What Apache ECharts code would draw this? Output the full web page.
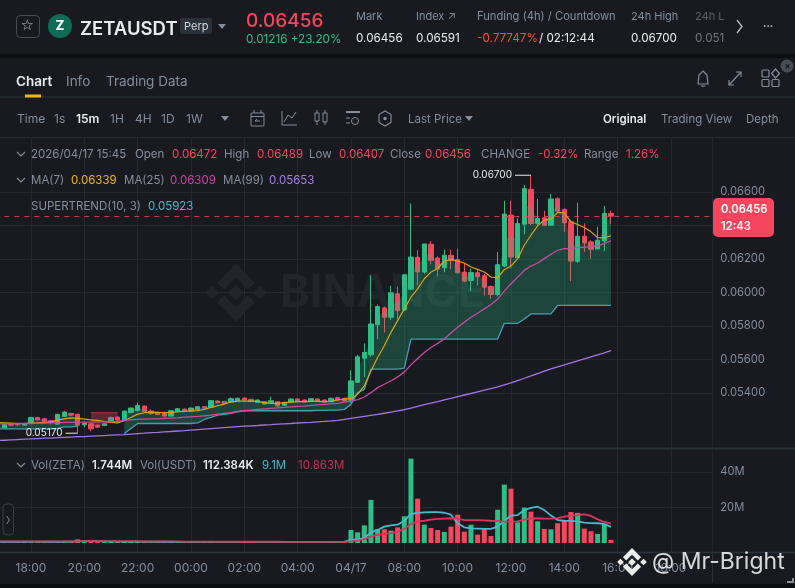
<!DOCTYPE html>
<html><head><meta charset="utf-8">
<style>html,body{margin:0;padding:0;background:#181a20}#c{width:795px;height:588px}</style>
<script src="https://cdn.jsdelivr.net/npm/echarts@6/dist/echarts.min.js"></script>
</head><body><div id="c"></div>
<script>
const opens=[.05206,.05192,.05216,.05218,.05208,.05224,.05254,.05246,.05234,.05214,.0526,.05278,.05272,.0521,.05216,.05208,.05206,.05228,.05256,.05238,.05284,.05294,.05322,.05292,.05284,.05284,.05262,.05288,.05304,.0529,.05302,.05318,.05314,.05352,.0535,.05346,.05354,.0537,.05362,.05344,.05334,.05342,.05348,.05326,.05346,.05364,.05358,.0535,.05364,.05358,.05348,.05372,.05368,
.05356,.05464,.05608,.05628,.05808,.05908,.05852,.05992,.05896,.0602,.0621,.06122,.06288,.06206,.06148,.06222,.06196,.06122,.06072,.06118,.061,.06036,.05988,.06158,.06462,.06208,.06408,.06616,.06412,.06446,.06402,.0656,.06496,.06422,.06186,.06336,.06302,.0626,.06308,.06472];
const closes=[.05214,.05212,.05208,.0521,.05218,.05254,.0524,.05232,.05226,.05272,.05286,.05268,.05208,.05218,.05186,.05196,.05216,.05254,.05238,.05292,.0531,.05326,.0529,.05278,.05272,.05262,.05294,.05306,.05294,.0531,.05318,.0531,.05354,.05342,.05338,.05366,.05368,.05358,.0535,.05358,.05348,.05354,.05322,.05344,.05364,.0535,.05346,.05366,.0535,.05346,.05368,.05358,.05352,
.05472,.05616,.05642,.05812,.05916,.05852,.05998,.05892,.06106,.06212,.06122,.0629,.06192,.0614,.06222,.06192,.06118,.06068,.0612,.06096,.06032,.05988,.06166,.06468,.06212,.06412,.0662,.06412,.06442,.06402,.06558,.06486,.06416,.06188,.06336,.06296,.06258,.06312,.06472,.06456];
const highs=[.05218,.05216,.0522,.05222,.05222,.05258,.05258,.0525,.05238,.05276,.05292,.05282,.05276,.05228,.0522,.05212,.0522,.05258,.0526,.05294,.05314,.05342,.05324,.05302,.05288,.05288,.05298,.0531,.05308,.05314,.05322,.05322,.05358,.05356,.05354,.05374,.05372,.05374,.05366,.05362,.05352,.05378,.05352,.05348,.05368,.05368,.05362,.0537,.05368,.05362,.05372,.05376,.05372,
.05536,.05628,.05696,.06102,.05928,.05916,.0604,.06036,.06112,.06532,.06252,.0629,.06306,.06216,.06256,.06256,.06262,.06172,.06142,.0614,.06112,.06042,.06242,.06548,.06548,.06442,.06642,.067,.06558,.06488,.06588,.06568,.06502,.06432,.06536,.06412,.06312,.06392,.06516,.06489];
const lows=[.05202,.0519,.05204,.05204,.05206,.0522,.05236,.0523,.05212,.05212,.05256,.05264,.05162,.05196,.05172,.05192,.05204,.05226,.05234,.05236,.0528,.05292,.05286,.0527,.05268,.05258,.0526,.05286,.05292,.05288,.053,.05308,.05312,.0534,.05336,.05344,.05352,.05356,.05348,.05342,.05332,.0534,.0532,.05324,.05344,.05348,.05344,.05348,.05348,.05344,.05346,.05356,.0535,
.05342,.0546,.05496,.05616,.05722,.05762,.05836,.05842,.05892,.06016,.06042,.06112,.06168,.06096,.0612,.0614,.06112,.06062,.06008,.06042,.05982,.05962,.05976,.06152,.06148,.06208,.06348,.06402,.06402,.06396,.06396,.06476,.06362,.06068,.06176,.06242,.06202,.06256,.06248,.06407];
const ma7=[.05224,.05222,.0522,.05218,.05218,.0522,.05222,.05224,.05228,.05238,.05246,.05252,.05248,.05244,.0524,.05236,.0523,.05224,.05222,.05234,.05254,.05274,.05282,.05286,.05284,.05282,.05284,.05288,.0529,.05294,.05294,.05302,.05314,.05324,.05334,.05346,.05352,.05352,.05352,.0535,.05342,.05338,.05338,.05342,.05346,.05348,.05348,.0535,.0535,.05348,.0535,.05358,.05364,
.05366,.05392,.05442,.05532,.05612,.05682,.05762,.05832,.05902,.05972,.06022,.06082,.06122,.06142,.06188,.06196,.06188,.06176,.06152,.06138,.06122,.06092,.06088,.06136,.06158,.06202,.06282,.06342,.06398,.06432,.06438,.06478,.06476,.06422,.06406,.06388,.06362,.06328,.06326,.06339];
const ma25=[.05216,.05216,.05216,.05218,.05218,.05218,.0522,.0522,.05222,.05222,.05224,.05224,.05226,.05226,.05226,.05228,.05228,.05228,.0523,.05238,.0524,.05242,.05244,.05246,.05246,.05248,.0525,.05252,.05256,.05258,.0526,.05264,.05268,.05274,.05278,.05282,.0529,.05294,.05298,.05302,.05305,.05308,.05311,.05314,.05317,.0532,.05322,.05326,.05329,.05332,.05335,.05338,.05346,
.05352,.0536,.05376,.05402,.05432,.05452,.05472,.05496,.05526,.05568,.05606,.05642,.05672,.05696,.05722,.05758,.05792,.05822,.05852,.05876,.05902,.05928,.0596,.06008,.06052,.06092,.06132,.06158,.06176,.06202,.06228,.06252,.06262,.06262,.06268,.0627,.06274,.06278,.06292,.06309];
const ma99=[.05116,.05118,.0512,.05122,.05124,.05126,.05128,.0513,.05131,.05133,.05135,.05137,.05139,.0514,.05142,.05144,.05146,.05148,.0515,.05152,.05155,.05158,.0516,.05163,.05165,.05168,.0517,.05173,.05175,.05178,.05181,.05184,.05187,.0519,.05193,.05196,.05199,.05202,.05204,.05206,.05209,.05211,.05214,.05216,.05218,.05221,.05223,.05225,.05228,.0523,.05233,.05237,.05242,
.05248,.05254,.0526,.05266,.05272,.05279,.05286,.05293,.053,.0531,.0532,.0533,.0534,.05349,.05359,.05368,.05378,.05388,.05397,.05407,.05417,.05426,.05436,.05448,.0546,.05474,.05488,.05502,.05516,.0553,.05544,.05556,.05568,.0558,.05592,.05604,.05616,.05628,.0564,.05653];
const stBull=[.05186,.05186,.05186,.05186,.05186,.05186,.05186,.05186,.05186,.05188,.05198,.05198,.05202,null,null,null,null,null,null,.05158,.05188,.05218,.05218,.05218,.05218,.05218,.05218,.05218,.05218,.05218,.05222,.05242,.05254,.05268,.05272,.05278,.05288,.05294,.05294,.05294,.05294,.05294,.05294,.05294,.05294,.05294,.05294,.05294,.05296,.05296,.05298,.05298,.05302,
.05332,.05402,.05422,.05542,.05542,.05542,.05542,.05542,.05548,.05722,.05722,.05722,.05722,.05722,.05722,.05722,.05722,.05722,.05722,.05722,.05722,.05722,.05722,.05816,.05816,.05816,.05842,.05872,.05872,.05872,.05872,.05923,.05923,.05923,.05923,.05923,.05923,.05923,.05923,.05923];
const stBear=[null,null,null,null,null,null,null,null,null,null,null,null,null,null,.05282,.05282,.05282,.05282,.05282];
const volZeta=[.6,.6,.5,.7,.5,.9,.6,.5,.8,.7,.6,.9,2.1,1.0,1.2,.7,.5,.6,.6,1.0,.8,.7,.6,.5,.5,.6,.7,.6,.4,.5,.4,.5,.8,.5,.5,.5,.4,.5,.4,.9,.8,.6,.5,.5,.6,.5,.5,.5,.4,.5,.6,.6,.7,
7.3,6.0,9.9,24.2,7.9,7.7,6.9,8.8,15.0,47.4,24.9,10.3,8.4,7.3,6.2,9.2,15.9,6.4,10.3,4.7,7.7,3.9,18.7,32.8,30.5,11.6,19.9,17.6,12.2,7.9,7.7,11.1,12.5,17.4,16.9,8.1,6.6,5.1,10.7,1.744];
const volMaA=[.7,.7,.7,.7,.7,.8,.8,.7,.7,.7,.7,.8,.9,1,1,1,.9,.9,.8,.8,.8,.8,.8,.7,.7,.7,.7,.6,.6,.6,.6,.6,.6,.6,.6,.6,.6,.6,.6,.6,.6,.6,.6,.6,.6,.6,.6,.6,.6,.5,.5,.5,.6,
1.7,2.1,2.8,6.0,7.3,9.2,9.9,10.3,12.5,16.3,16.9,17.2,17.4,17.4,17.0,15.9,11.1,8.8,8.2,8.1,7.9,7.9,9.2,12.5,15.4,15.7,18.5,19.7,20.4,18.5,15.4,12.9,12.5,12.4,12.2,11.4,11.2,11.1,10.7,9.1];
const volMaB=[.9,.9,.9,.9,.9,.9,.9,.9,.9,.9,.9,.9,1,1,1,1,1,1,1,1,1,1,.9,.9,.9,.9,.9,.9,.8,.8,.8,.8,.8,.7,.7,.7,.7,.7,.7,.7,.7,.7,.7,.6,.6,.6,.6,.6,.6,.6,.6,.6,.7,
.9,1.3,2.2,3.6,4.5,5.1,5.6,6.4,7.9,10.7,12.0,12.5,13.1,13.5,13.7,13.9,13.7,12.9,12.9,12.9,12.7,12.5,12.4,12.0,12.0,12.2,13.1,13.7,13.9,13.7,13.7,14.0,14.8,15.4,15.7,16.1,15.2,13.3,11.8,10.863];
const priceTicks=[.054,.056,.058,.06,.062,.064,.066];
const volTicks=[20,40];
const timeLabels={5:'18:00',13:'20:00',21:'22:00',29:'00:00',37:'02:00',45:'04:00',53:'04/17',61:'08:00',69:'10:00',77:'12:00',85:'14:00',93:'16:00',101:'18:00'};
const slots=108;
const cats=[];for(let i=0;i<slots;i++)cats.push(timeLabels[i]||String(i));

const UP='#2ebd85',DN='#f6465d',GRID='#24282f',GREY='#848e9c',AX='#2b313b',BG='#181a20';
const mid=opens.map((o,i)=>(o+closes[i])/2);
const bullFill=stBull.map((v,i)=>v==null?null:mid[i]-v);
const bearBase=stBear.map((v,i)=>v==null?null:mid[i]);
const bearFill=stBear.map((v,i)=>v==null?null:v-mid[i]);
const lineS=(name,data,color,w,xi,z)=>({name,type:'line',data,xAxisIndex:xi,yAxisIndex:xi,symbol:'none',smooth:false,z:z||6,lineStyle:{color,width:w},silent:true,connectNulls:false});

const g=[];
const T=(x,y,text,fill,size,weight,opt)=>g.push(Object.assign({type:'text',z:100,silent:true,style:{x,y,text,fill:fill||GREY,font:`${weight||400} ${size||12}px Inter,"Noto Sans",sans-serif`,textVerticalAlign:'middle',textAlign:'left'}},opt||{}));
const R=(x,y,w,h,fill,r,stroke,z,lw)=>g.push({type:'rect',z:z||100,silent:true,shape:{x,y,width:w,height:h,r:r||0},style:{fill:fill||'none',stroke:stroke||'none',lineWidth:lw||1}});
const L=(pts,stroke,lw,z)=>g.push({type:'polyline',z:z||100,silent:true,shape:{points:pts},style:{stroke:stroke||GREY,lineWidth:lw||1,fill:'none'}});
const C=(cx,cy,r,fill,stroke,z)=>g.push({type:'circle',z:z||100,silent:true,shape:{cx,cy,r},style:{fill:fill||'none',stroke:stroke||'none'}});
const PG=(pts,fill,z)=>g.push({type:'polygon',z:z||100,silent:true,shape:{points:pts},style:{fill}});
const DIAMOND=(cx,cy,r,fill,z)=>PG([[cx,cy-r],[cx+r,cy],[cx,cy+r],[cx-r,cy]],fill,z);
const BNB=(cx,cy,k,fill,z)=>{
  const P=a=>a.map(p=>[cx+p[0]*k,cy+p[1]*k]);
  PG(P([[0,-29],[19,-10],[12,-3],[0,-15],[-12,-3],[-19,-10]]),fill,z);
  PG(P([[0,29],[19,10],[12,3],[0,15],[-12,3],[-19,10]]),fill,z);
  DIAMOND(cx-24*k,cy,7*k,fill,z);DIAMOND(cx+24*k,cy,7*k,fill,z);DIAMOND(cx,cy,8*k,fill,z);
};

// watermark in the plot
T(280,293,'BINANCE','#22252c',45,700,{z:1});
BNB(236,292.5,1,'#22252c',1);

// frame
R(0,54,795,4,'#0b0e11',0,null,90);R(0,584,795,4,'#0b0e11',0,null,90);
R(712.5,139,3,413,BG,0,null,50);
L([[712.5,552],[712.5,583]],AX,1,60);
L([[0,97],[795,97]],'#2b3139',1,90);L([[0,137.5],[795,137.5]],'#262b33',1,90);
L([[0,448.5],[795,448.5]],'#2b3139',2,60);L([[0,552.5],[795,552.5]],'#2b3139',1.5,60);
L([[793,578],[793,582],[787,582]],'#8a9099',2,100);

// header
R(16.5,15.5,23,22,null,4,'#474d57');T(20.5,26.5,'☆','#b7bdc6',15,400,{style:{x:20.5,y:26.5,text:'☆',fill:'#b7bdc6',font:'15px "DejaVu Sans"',textVerticalAlign:'middle'}});
C(60,26,12,'#0d6b56');T(55.5,26.5,'Z','#ffffff',13,800);
T(80,29,'ZETAUSDT','#eaecef',18.5,600);
R(180,18,32,16,'#2b3139',2);T(184,26.5,'Perp','#d5d9de',11);
PG([[218,24],[226,24],[222,29]],'#848e9c');
T(246,21,'0.06456',DN,19,500);T(246,39,'0.01216 +23.20%',UP,11.7);
T(356,17,'Mark',GREY,11);T(356,38.5,'0.06456','#eaecef',11.7);
T(416,17,'Index ↗',GREY,11);T(416,38.5,'0.06591','#eaecef',11.7);
T(477,17,'Funding (4h) / Countdown',GREY,11.2);T(477,38.5,'-0.77747%','#f6503f',11.7);T(539,38.5,'/ 02:12:44','#eaecef',11.7);
T(631,17,'24h High',GREY,11);T(631,38.5,'0.06700','#eaecef',11.7);
T(695,17,'24h L','#5a616b',11);T(695,38.5,'0.051','#70767f',11.7);
L([[737,20],[742,26.5],[737,33]],'#b7bdc6',1.3);T(763,26,'•••','#b7bdc6',6);

// tabs
T(16,81.5,'Chart','#eaecef',13.5,600);T(66,81.5,'Info',GREY,13.5);T(106,81.5,'Trading Data',GREY,13.5);
R(25,94.5,16,3,'#f0b90b');
C(787,66,6.5,'#474d57');T(784.5,66,'×','#181a20',9,700);
L([[698,84],[699,75],[703,71],[707,75],[708,84],[698,84]],'#848e9c',1.2);L([[701,86],[705,86]],'#848e9c',1.2);
L([[729,85],[741,72]],'#848e9c',1.2);L([[736,72],[741,72],[741,77]],'#848e9c',1.2);L([[729,80],[729,85],[734,85]],'#848e9c',1.2);
R(762,70,7,7,null,1,'#848e9c',100,1.2);R(762,79.5,7,7,null,1,'#848e9c',100,1.2);R(772,79.5,7,7,null,1,'#848e9c',100,1.2);
g.push({type:'polygon',z:100,silent:true,shape:{points:[[775.5,69],[779.5,73.5],[775.5,78],[771.5,73.5]]},style:{fill:'none',stroke:'#848e9c',lineWidth:1.2}});

// toolbar
T(17,119.5,'Time',GREY,12);T(54,119.5,'1s',GREY,12);T(76,119.5,'15m','#eaecef',12,600);T(110,119.5,'1H',GREY,12);T(135,119.5,'4H',GREY,12);T(161,119.5,'1D',GREY,12);T(186,119.5,'1W',GREY,12);
PG([[221,116],[229,116],[225,121]],'#848e9c');
R(251,113,13,13,null,1,'#848e9c');L([[251,116.5],[264,116.5]]);L([[254,110],[254,113]]);L([[261,110],[261,113]]);L([[260,121],[255,121],[257,119]]);
L([[282,111],[282,125],[297,125]]);L([[284,122],[288,115],[292,118],[296,112]]);
R(315,113,4,8,null,0,'#848e9c');L([[317,110],[317,113]]);L([[317,121],[317,125]]);R(323,113,4,9,null,0,'#848e9c');L([[325,110],[325,113]]);L([[325,122],[325,125]]);
L([[346,112],[360,112]],'#848e9c',2);L([[346,118],[350,118]]);L([[346,123],[350,123]]);C(355,121,3.5,null,'#848e9c');
g.push({type:'polygon',z:100,silent:true,shape:{points:[[385,111],[391,114.5],[391,122.5],[385,126],[379,122.5],[379,114.5]]},style:{fill:'none',stroke:'#848e9c',lineWidth:1.1}});C(385,118.5,1.8,'#848e9c');
T(408,119.5,'Last Price',GREY,11.5);PG([[465,116],[473,116],[469,121]],'#848e9c');
T(603,119.5,'Original','#eaecef',11.5,600);T(661,119.5,'Trading View',GREY,11.5);T(746,119.5,'Depth',GREY,11.5);

// legends
const s=11.5;
const chev=y=>L([[17,y-2],[21,y+2],[25,y-2]],GREY,1.1);
chev(154);T(31,155,'2026/04/17 15:45',GREY,s);T(135,155,'Open',GREY,s);T(172,155,'0.06472',DN,s);T(224,155,'High',GREY,s);T(257,155,'0.06489',DN,s);T(309,155,'Low',GREY,s);T(339,155,'0.06407',DN,s);T(390,155,'Close',GREY,s);T(425,155,'0.06456',DN,s);T(481,155,'CHANGE',GREY,s);T(538,155,'-0.32%',DN,s);T(584,155,'Range',GREY,s);T(626,155,'1.26%',DN,s);
chev(180);T(31,181,'MA(7)',GREY,s);T(71,181,'0.06339','#f0b90b',s);T(124,181,'MA(25)',GREY,s);T(170,181,'0.06309','#d63fa5',s);T(223,181,'MA(99)',GREY,s);T(269,181,'0.05653','#a87fe8',s);
T(31,207,'SUPERTREND(10, 3)',GREY,s);T(148,207,'0.05923','#4ab8c9',s);
chev(465);T(31,466,'Vol(ZETA)',GREY,s);T(92,466,'1.744M','#eaecef',s,600);T(140,466,'Vol(USDT)',GREY,s);T(203,466,'112.384K','#eaecef',s,600);T(262,466,'9.1M','#4ab8c9',s);T(298,466,'10.863M','#c9304f',s);
R(3,504,10.5,31,BG,4,'#3a404a',70);L([[6.5,516],[9.5,520],[6.5,524]],GREY,1);

// price tag
R(713,198,61,39,DN,5);T(721,210,'0.06456','#ffffff',11.2,600);T(721,227,'12:43','#ffffff',11.2,600);

// author mark
T(652,562,'@ Mr-Bright','#d8dadd',23,400,{z:110});
BNB(632,562,.48,'#ebebeb',110);

const volData=volZeta.map((v,i)=>({value:v,itemStyle:{color:closes[i]>=opens[i]?UP:DN}}));
const candle=opens.map((o,i)=>[o,closes[i],lows[i],highs[i]]);
const vlabels=(i)=>timeLabels[i]!==undefined;
const xAxisBase=(gi,showLabel)=>({type:'category',gridIndex:gi,data:cats,boundaryGap:true,
  axisLine:{show:false},axisTick:{show:false,alignWithLabel:true,interval:(i)=>vlabels(i)},
  axisLabel:{show:showLabel,interval:(i)=>vlabels(i),color:GREY,fontSize:12,fontFamily:'Inter',margin:10,hideOverlap:false},
  splitLine:{show:true,alignWithLabel:true,interval:(i)=>vlabels(i),lineStyle:{color:GRID,width:1}}});
const option={
  animation:false,backgroundColor:BG,
  graphic:{elements:g},
  grid:[{left:-5.7,top:138,width:720,height:310,outerBoundsMode:'none'},{left:-5.7,top:449,width:720,height:103,outerBoundsMode:'none'}],
  xAxis:[xAxisBase(0,false),xAxisBase(1,true)],
  yAxis:[
   {type:'value',gridIndex:0,position:'right',offset:-2,min:.050716,max:.069224,
    axisLine:{show:true,onZero:false,lineStyle:{color:AX}},
    axisTick:{show:false,customValues:priceTicks},
    axisLabel:{customValues:priceTicks,color:GREY,fontSize:11.2,fontFamily:'Inter',margin:8,formatter:v=>v.toFixed(5)},
    splitLine:{show:true,lineStyle:{color:GRID}}},
   {type:'value',gridIndex:1,position:'right',offset:-2,min:-5.056,max:52.81,
    axisLine:{show:true,onZero:false,lineStyle:{color:AX}},
    axisTick:{show:false,customValues:volTicks},
    axisLabel:{customValues:volTicks,color:GREY,fontSize:11.2,fontFamily:'Inter',margin:8,formatter:v=>v+'M'},
    splitLine:{show:true,lineStyle:{color:GRID}}}
  ],
  series:[
   {name:'Kline',type:'candlestick',data:candle,xAxisIndex:0,yAxisIndex:0,barWidth:5,z:2,silent:true,
    itemStyle:{color:UP,color0:DN,borderColor:UP,borderColor0:DN,borderWidth:1},
    markLine:{silent:true,precision:5,symbol:'none',label:{show:false},lineStyle:{color:DN,type:[5,5],width:1,opacity:.75},data:[{yAxis:.06456}]},
    markPoint:{silent:true,data:[
      {coord:[80,.067],symbol:'rect',symbolSize:[16,1],symbolOffset:[-8,0],itemStyle:{color:'#eaecef'},label:{show:true,position:'left',formatter:'0.06700',color:'#eaecef',fontSize:10,fontFamily:'Inter',distance:3}},
      {coord:[12,.0516],symbol:'rect',symbolSize:[12,1],symbolOffset:[-6,0],itemStyle:{color:'#eaecef'},label:{show:true,position:'left',formatter:'0.05170',color:'#eaecef',fontSize:10,fontFamily:'Inter',distance:3}}
    ]}},
   {name:'stBull',type:'line',stack:'bull',data:stBull,xAxisIndex:0,yAxisIndex:0,symbol:'none',z:4,silent:true,lineStyle:{color:'#469fb0',width:1.3}},
   {name:'bullFill',type:'line',stack:'bull',data:bullFill,xAxisIndex:0,yAxisIndex:0,symbol:'none',z:3,silent:true,lineStyle:{width:0,opacity:0},areaStyle:{color:'rgba(46,189,133,.27)',opacity:1}},
   {name:'bearBase',type:'line',stack:'bear',data:bearBase,xAxisIndex:0,yAxisIndex:0,symbol:'none',z:3,silent:true,lineStyle:{width:0,opacity:0}},
   {name:'bearFill',type:'line',stack:'bear',data:bearFill,xAxisIndex:0,yAxisIndex:0,symbol:'none',z:3,silent:true,lineStyle:{color:'#8c3040',width:1.3},areaStyle:{color:'rgba(246,70,93,.3)',opacity:1}},
   lineS('MA7',ma7,'#d6a50f',1.2,0),
   lineS('MA25',ma25,'#c94a9e',1.3,0),
   lineS('MA99',ma99,'#a176e0',1.3,0),
   {name:'Vol',type:'bar',data:volData,xAxisIndex:1,yAxisIndex:1,barWidth:5,z:2,silent:true},
   lineS('VolA',volMaA,'#4ab8cf',1.8,1),
   lineS('VolB',volMaB,'#d8365f',1.8,1)
  ]
};
const chart=echarts.init(document.getElementById('c'),null,{renderer:'canvas'});
chart.setOption(option);
</script></body></html>
